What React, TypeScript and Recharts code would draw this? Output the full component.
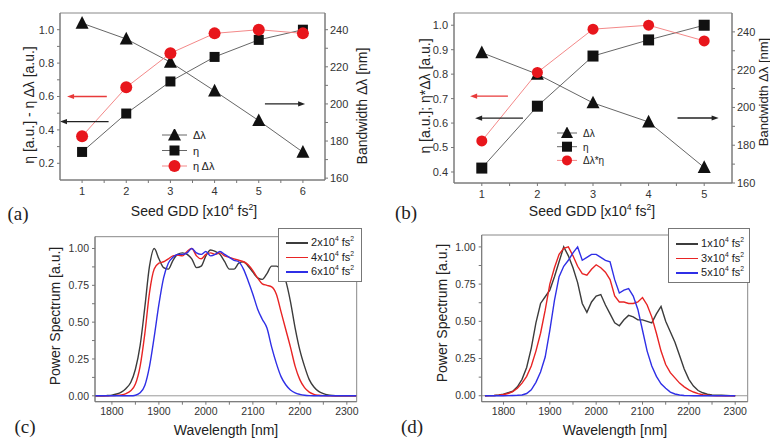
import React from "react";
import { ComposedChart, LineChart, Line, XAxis, YAxis, ReferenceArea, ReferenceLine } from "recharts";

const FONT = '"Liberation Sans", Arial, sans-serif';
const SERIF = '"Liberation Serif", "Times New Roman", serif';
const RED = "#e8161c";
const INK = "#111";

// (a) seed GDD scan, 1..6 x10^4 fs^2
const gddA = [1, 2, 3, 4, 5, 6];
const bandwidthA = [243.5, 235, 222.5, 207, 191, 174];
const etaA = [0.268, 0.498, 0.69, 0.837, 0.939, 1.0];
const etaBwA = [0.362, 0.655, 0.859, 0.978, 1.0, 0.978];

// (b) seed GDD scan, 1..5 x10^4 fs^2
const gddB = [1, 2, 3, 4, 5];
const bandwidthB = [229, 217.6, 202.4, 192.3, 168.2];
const etaB = [0.416, 0.669, 0.874, 0.94, 1.0];
const etaBwB = [0.527, 0.807, 0.984, 1.0, 0.936];

// (c) spectra for 2, 4, 6 x10^4 fs^2
const wlC = [
  1760, 1770, 1780, 1790, 1800, 1810, 1820, 1830, 1840, 1850, 1860, 1870, 1880, 1890, 1900, 1910, 1920, 1930, 1940,
  1950, 1960, 1970, 1980, 1990, 2000, 2010, 2020, 2030, 2040, 2050, 2060, 2070, 2080, 2090, 2100, 2110, 2120, 2130,
  2140, 2150, 2160, 2170, 2180, 2190, 2200, 2210, 2220, 2230, 2240, 2250, 2260, 2270, 2280, 2290, 2300, 2310, 2320,
];
const spec2 = [
  0, 0, 0, 0.002, 0.005, 0.012, 0.025, 0.05, 0.09, 0.18, 0.34, 0.6, 0.88, 1.0, 0.93, 0.87, 0.86, 0.92, 0.96,
  0.97, 0.96, 0.93, 0.87, 0.88, 0.95, 0.99, 0.98, 0.96, 0.91, 0.86, 0.86, 0.9, 0.91, 0.88, 0.84, 0.8, 0.79, 0.83,
  0.88, 0.88, 0.85, 0.78, 0.64, 0.46, 0.31, 0.2, 0.11, 0.06, 0.03, 0.015, 0.006, 0.002, 0, 0, 0, 0, 0,
];
const spec4 = [
  0, 0, 0, 0, 0.001, 0.003, 0.006, 0.015, 0.035, 0.08, 0.2, 0.42, 0.7, 0.86, 0.9, 0.91, 0.93, 0.95, 0.955,
  0.95, 0.98, 1.0, 0.95, 0.93, 0.96, 0.97, 0.96, 0.97, 0.95, 0.94, 0.93, 0.92, 0.91, 0.89, 0.85, 0.8, 0.76, 0.75,
  0.74, 0.69, 0.57, 0.45, 0.33, 0.2, 0.11, 0.055, 0.025, 0.01, 0.004, 0.001, 0, 0, 0, 0, 0, 0, 0,
];
const spec6 = [
  0, 0, 0, 0, 0, 0, 0, 0, 0, 0.004, 0.02, 0.07, 0.2, 0.4, 0.62, 0.8, 0.9, 0.94, 0.96,
  0.96, 0.97, 1.0, 0.97, 0.96, 0.98, 0.95, 0.96, 0.98, 0.96, 0.94, 0.92, 0.91, 0.86, 0.78, 0.69, 0.59, 0.52, 0.46,
  0.33, 0.22, 0.13, 0.075, 0.04, 0.02, 0.01, 0.004, 0.001, 0, 0, 0, 0, 0, 0, 0, 0, 0, 0,
];

// (d) spectra for 1, 3, 5 x10^4 fs^2
const wlD = [
  1760, 1770, 1780, 1790, 1800, 1810, 1820, 1830, 1840, 1850, 1860, 1870, 1880, 1890, 1900, 1910, 1920, 1930, 1940,
  1950, 1960, 1970, 1980, 1990, 2000, 2010, 2020, 2030, 2040, 2050, 2060, 2070, 2080, 2090, 2100, 2110, 2120, 2130,
  2140, 2150, 2160, 2170, 2180, 2190, 2200, 2210, 2220, 2230, 2240, 2250, 2260, 2270, 2280, 2290, 2300,
];
const spec1 = [
  0, 0.001, 0.002, 0.005, 0.01, 0.02, 0.03, 0.06, 0.11, 0.19, 0.32, 0.49, 0.62, 0.665, 0.71, 0.8, 0.9, 1.0, 0.94,
  0.86, 0.76, 0.62, 0.56, 0.63, 0.67, 0.68, 0.61, 0.55, 0.49, 0.47, 0.51, 0.54, 0.53, 0.51, 0.51, 0.5, 0.49, 0.55,
  0.6, 0.5, 0.43, 0.36, 0.27, 0.18, 0.11, 0.065, 0.035, 0.02, 0.01, 0.006, 0.004, 0.003, 0.002, 0.001, 0,
];
const spec3 = [
  0, 0.001, 0.002, 0.004, 0.008, 0.015, 0.028, 0.05, 0.085, 0.13, 0.2, 0.3, 0.42, 0.575, 0.75, 0.86, 0.95, 0.99, 1.0,
  0.94, 0.87, 0.82, 0.81, 0.85, 0.88, 0.86, 0.83, 0.78, 0.67, 0.63, 0.63, 0.62, 0.62, 0.63, 0.66, 0.61, 0.53, 0.42,
  0.3, 0.21, 0.155, 0.12, 0.085, 0.06, 0.04, 0.025, 0.014, 0.007, 0.003, 0.001, 0, 0, 0, 0, 0,
];
const spec5 = [
  0, 0, 0, 0, 0, 0.001, 0.002, 0.003, 0.005, 0.015, 0.04, 0.09, 0.16, 0.26, 0.44, 0.64, 0.8, 0.87, 0.91,
  0.96, 1.0, 0.91, 0.93, 0.95, 0.95, 0.93, 0.91, 0.9, 0.78, 0.69, 0.71, 0.72, 0.67, 0.58, 0.44, 0.3, 0.2, 0.13,
  0.08, 0.05, 0.025, 0.012, 0.005, 0.002, 0.001, 0, 0, 0, 0, 0, 0, 0, 0, 0, 0,
];

const tickStyle = (size: number) => ({ fontSize: size, fill: "#333", fontFamily: FONT });

const Sup = ({ children }: any) => (
  <sup style={{ fontSize: "0.62em", lineHeight: 0, verticalAlign: "super" }}>{children}</sup>
);

function Txt({ x, y, rot, size = 14, serif, children }: any) {
  return (
    <div
      style={{
        position: "absolute",
        left: x,
        top: y,
        transform: `translate(-50%, -50%)${rot ? " rotate(-90deg)" : ""}`,
        whiteSpace: "nowrap",
        fontFamily: serif ? SERIF : FONT,
        fontSize: size,
        color: "#222",
        lineHeight: 1,
      }}
    >
      {children}
    </div>
  );
}

// markers
const tri = (cx: number, cy: number, s: number) =>
  `${cx},${cy - s * 0.55} ${cx - s / 2},${cy + s * 0.42} ${cx + s / 2},${cy + s * 0.42}`;

const triDot = (s: number) => (p: any) =>
  p.cx == null ? <g key={p.index} /> : <polygon key={p.index} points={tri(p.cx, p.cy, s)} fill={INK} />;
const sqDot = (s: number) => (p: any) =>
  p.cx == null ? <g key={p.index} /> : <rect key={p.index} x={p.cx - s / 2} y={p.cy - s / 2} width={s} height={s} fill={INK} />;
const circDot = (s: number) => (p: any) =>
  p.cx == null ? <g key={p.index} /> : <circle key={p.index} cx={p.cx} cy={p.cy} r={s / 2} fill={RED} />;

const arrowShape = (color: string) => (p: any) => {
  const { x1, y1, x2, y2 } = p;
  const dir = Math.sign(x2 - x1) || 1;
  const head = 7;
  return (
    <g>
      <line x1={x1} y1={y1} x2={x2 - dir * head * 0.7} y2={y2} stroke={color} strokeWidth={1.3} />
      <polygon points={`${x2},${y2} ${x2 - dir * head},${y2 - 2.6} ${x2 - dir * head},${y2 + 2.6}`} fill={color} />
    </g>
  );
};

function GddPanel(props: any) {
  const { width, height, margin, data, xDomain, xTicks, leftDomain, leftTicks, leftFmt, rightDomain, rightTicks, arrows, mk, leftW, rightW } = props;
  return (
    <ComposedChart width={width} height={height} data={data} margin={margin}>
      <XAxis
        dataKey="gdd"
        type="number"
        domain={xDomain}
        ticks={xTicks}
        allowDataOverflow
        tickFormatter={(v: number) => (Number.isInteger(v) ? String(v) : "")}
        tick={tickStyle(11)}
        tickSize={3}
        tickMargin={4}
        height={30}
        stroke="#777"
      />
      <XAxis xAxisId="top" orientation="top" type="number" domain={xDomain} ticks={xTicks} allowDataOverflow mirror height={0} tickFormatter={() => ""} tickSize={3} stroke="#888" />
      <YAxis
        yAxisId="left"
        type="number"
        domain={leftDomain}
        ticks={leftTicks}
        allowDataOverflow
        tickFormatter={leftFmt}
        tick={tickStyle(11)}
        tickSize={3}
        tickMargin={3}
        width={leftW}
        stroke="#777"
      />
      <YAxis
        yAxisId="right"
        orientation="right"
        type="number"
        domain={rightDomain}
        ticks={rightTicks}
        allowDataOverflow
        tickFormatter={(v: number) => (v % 20 === 0 ? String(v) : "")}
        tick={{ ...tickStyle(11), textAnchor: "start" }}
        tickSize={3}
        tickMargin={2}
        width={rightW}
        stroke="#777"
      />
      <ReferenceArea yAxisId="left" x1={xDomain[0]} x2={xDomain[1]} y1={leftDomain[0]} y2={leftDomain[1]} fill="none" stroke="#888" strokeWidth={1} />
      <Line yAxisId="right" dataKey="bw" stroke="#555" strokeWidth={0.9} dot={triDot(mk.tri)} isAnimationActive={false} />
      <Line yAxisId="left" dataKey="eta" stroke="#555" strokeWidth={0.9} dot={sqDot(mk.sq)} isAnimationActive={false} />
      <Line yAxisId="left" dataKey="etaBw" stroke="#f27a7a" strokeWidth={0.9} dot={circDot(mk.circ)} isAnimationActive={false} />
      {arrows.map((a: any, i: number) => (
        <ReferenceLine
          key={i}
          yAxisId={a.axis}
          ifOverflow="visible"
          segment={[{ x: a.from, y: a.y }, { x: a.to, y: a.y }]}
          shape={arrowShape(a.color)}
        />
      ))}
    </ComposedChart>
  );
}

function MarkerLegend({ left, top, rows, lineW, gap, mk, size }: any) {
  const h = gap * rows.length + 10;
  return (
    <svg style={{ position: "absolute", left, top }} width={90} height={h}>
      {rows.map((r: any, i: number) => {
        const y = 6 + i * gap;
        const cx = lineW / 2;
        return (
          <g key={r.label}>
            <line x1={0} y1={y} x2={lineW} y2={y} stroke={r.kind === "circ" ? "#f27a7a" : "#555"} strokeWidth={0.9} />
            {r.kind === "tri" && <polygon points={tri(cx, y, mk.tri)} fill={INK} />}
            {r.kind === "sq" && <rect x={cx - mk.sq / 2} y={y - mk.sq / 2} width={mk.sq} height={mk.sq} fill={INK} />}
            {r.kind === "circ" && <circle cx={cx} cy={y} r={mk.circ / 2} fill={RED} />}
            <text x={lineW + 6} y={y + 4} fontSize={size} fontFamily={FONT} fill="#222">
              {r.label}
            </text>
          </g>
        );
      })}
    </svg>
  );
}

function SpectrumPanel(props: any) {
  const { width, height, margin, data, xDomain, linear } = props;
  const xTicks = [1800, 1850, 1900, 1950, 2000, 2050, 2100, 2150, 2200, 2250, 2300];
  const yTicks = [0, 0.125, 0.25, 0.375, 0.5, 0.625, 0.75, 0.875, 1.0];
  const curve = linear ? "linear" : "monotone";
  return (
    <LineChart width={width} height={height} data={data} margin={margin}>
      <XAxis
        dataKey="wl"
        type="number"
        domain={xDomain}
        ticks={xTicks}
        allowDataOverflow
        tickFormatter={(v: number) => (v % 100 === 0 ? String(v) : "")}
        tick={tickStyle(10.5)}
        tickSize={3}
        tickMargin={3}
        height={25}
        stroke="#777"
      />
      <XAxis xAxisId="top" orientation="top" type="number" domain={xDomain} ticks={xTicks} allowDataOverflow mirror height={0} tickFormatter={() => ""} tickSize={3} stroke="#888" />
      <YAxis
        type="number"
        domain={[-0.04, 1.08]}
        ticks={yTicks}
        allowDataOverflow
        tickFormatter={(v: number) => (Number.isInteger(v * 4) ? v.toFixed(2) : "")}
        tick={tickStyle(10.5)}
        tickSize={3}
        tickMargin={3}
        width={45}
        stroke="#777"
      />
      <YAxis yAxisId="r" orientation="right" type="number" domain={[-0.04, 1.08]} ticks={yTicks} allowDataOverflow mirror width={0} tickFormatter={() => ""} tickSize={3} stroke="#888" />
      <ReferenceArea x1={xDomain[0]} x2={xDomain[1]} y1={-0.04} y2={1.08} fill="none" stroke="#888" />
      <ReferenceLine y={0} stroke="#999" strokeWidth={1} />
      <Line type={curve} dataKey="s0" stroke="#3c3c3c" strokeWidth={1.4} dot={false} isAnimationActive={false} />
      <Line type={curve} dataKey="s1" stroke="#e82424" strokeWidth={1.4} dot={false} isAnimationActive={false} />
      <Line type={curve} dataKey="s2" stroke="#2f2fe6" strokeWidth={1.4} dot={false} isAnimationActive={false} />
    </LineChart>
  );
}

function LineLegend({ left, top, width, height, labels, rowY, lineX0, lineX1, textX }: any) {
  const colors = ["#3c3c3c", "#e82424", "#2f2fe6"];
  return (
    <div
      style={{
        position: "absolute",
        left,
        top,
        width,
        height,
        border: "1px solid #777",
        background: "#fff",
        boxSizing: "border-box",
      }}
    >
      {labels.map((l: string, i: number) => (
        <React.Fragment key={l}>
          <div style={{ position: "absolute", left: lineX0, top: rowY[i], width: lineX1 - lineX0, height: 1.5, background: colors[i] }} />
          <div
            style={{
              position: "absolute",
              left: textX,
              top: rowY[i] - 7,
              fontFamily: FONT,
              fontSize: 11,
              color: "#222",
              lineHeight: "14px",
              whiteSpace: "nowrap",
            }}
          >
            {l}x10<Sup>4</Sup> fs<Sup>2</Sup>
          </div>
        </React.Fragment>
      ))}
    </div>
  );
}

const SeedTitle = () => (
  <>
    Seed GDD [x10<Sup>4</Sup> fs<Sup>2</Sup>]
  </>
);

export default function App() {
  const dataA = gddA.map((g, i) => ({ gdd: g, bw: bandwidthA[i], eta: etaA[i], etaBw: etaBwA[i] }));
  const dataB = gddB.map((g, i) => ({ gdd: g, bw: bandwidthB[i], eta: etaB[i], etaBw: etaBwB[i] }));
  const dataC = wlC.map((w, i) => ({ wl: w, s0: spec2[i], s1: spec4[i], s2: spec6[i] }));
  const dataD = wlD.map((w, i) => ({ wl: w, s0: spec1[i], s1: spec3[i], s2: spec5[i] }));

  const ticksA = [1, 1.5, 2, 2.5, 3, 3.5, 4, 4.5, 5, 5.5, 6];
  const ticksB = [1, 1.5, 2, 2.5, 3, 3.5, 4, 4.5, 5];
  const rightTicks = [160, 170, 180, 190, 200, 210, 220, 230, 240];

  return (
    <div style={{ position: "fixed", left: 0, top: 0, width: 770, height: 443, overflow: "hidden", background: "#fff" }}>
      {/* (a) */}
      <div style={{ position: "absolute", left: 0, top: 0 }}>
        <GddPanel
          width={385}
          height={220}
          margin={{ top: 13, right: 20, bottom: 10, left: 20 }}
          leftW={40}
          rightW={40}
          data={dataA}
          xDomain={[0.5, 6.5]}
          xTicks={ticksA}
          leftDomain={[0.1, 1.1]}
          leftTicks={[0.2, 0.3, 0.4, 0.5, 0.6, 0.7, 0.8, 0.9, 1.0]}
          leftFmt={(v: number) => (Math.round(v * 10) % 2 === 0 ? v.toFixed(1) : "")}
          rightDomain={[159, 249]}
          rightTicks={rightTicks}
          mk={{ tri: 13, sq: 10, circ: 12 }}
          arrows={[
            { axis: "left", y: 0.6, from: 1.56, to: 0.66, color: "#e83a3a" },
            { axis: "left", y: 0.45, from: 1.6, to: 0.5, color: "#222" },
            { axis: "right", y: 200, from: 5.14, to: 6.05, color: "#222" },
          ]}
        />
      </div>
      <MarkerLegend
        left={162}
        top={129}
        lineW={25}
        gap={15.5}
        size={11}
        mk={{ tri: 13, sq: 10, circ: 12 }}
        rows={[
          { kind: "tri", label: "Δλ" },
          { kind: "sq", label: "η" },
          { kind: "circ", label: "η Δλ" },
        ]}
      />
      <Txt x={29} y={105} rot>η [a.u.] - η Δλ [a.u.]</Txt>
      <Txt x={362} y={106} rot>Bandwidth Δλ [nm]</Txt>
      <Txt x={194} y={211}><SeedTitle /></Txt>
      <Txt x={18} y={213} size={19} serif>(a)</Txt>

      {/* (b) */}
      <div style={{ position: "absolute", left: 385, top: 0 }}>
        <GddPanel
          width={385}
          height={220}
          margin={{ top: 13, right: 0, bottom: 7, left: 29 }}
          leftW={40}
          rightW={38}
          data={dataB}
          xDomain={[0.5, 5.5]}
          xTicks={ticksB}
          leftDomain={[0.355, 1.05]}
          leftTicks={[0.4, 0.5, 0.6, 0.7, 0.8, 0.9, 1.0]}
          leftFmt={(v: number) => v.toFixed(1)}
          rightDomain={[160, 250]}
          rightTicks={rightTicks}
          mk={{ tri: 13, sq: 11, circ: 11 }}
          arrows={[
            { axis: "left", y: 0.71, from: 1.47, to: 0.79, color: "#e83a3a" },
            { axis: "left", y: 0.62, from: 1.74, to: 0.88, color: "#222" },
            { axis: "right", y: 194.4, from: 4.52, to: 5.26, color: "#222" },
          ]}
        />
      </div>
      <MarkerLegend
        left={557}
        top={127}
        lineW={20}
        gap={13.7}
        size={10}
        mk={{ tri: 12, sq: 10, circ: 10 }}
        rows={[
          { kind: "tri", label: "Δλ" },
          { kind: "sq", label: "η" },
          { kind: "circ", label: "Δλ*η" },
        ]}
      />
      <Txt x={425} y={96} rot>η [a.u.]; η*Δλ [a.u.]</Txt>
      <Txt x={762.5} y={92} rot size={13}>Bandwidth Δλ [nm]</Txt>
      <Txt x={592} y={211}><SeedTitle /></Txt>
      <Txt x={406} y={212} size={19} serif>(b)</Txt>

      {/* (c) */}
      <div style={{ position: "absolute", left: 0, top: 220 }}>
        <SpectrumPanel
          width={385}
          height={223}
          margin={{ top: 16.7, right: 28.3, bottom: 16.3, left: 50 }}
          data={dataC}
          xDomain={[1764, 2321]}
        />
      </div>
      <LineLegend
        left={278}
        top={228}
        width={84}
        height={54}
        labels={["2", "4", "6"]}
        rowY={[13, 27.5, 42]}
        lineX0={7}
        lineX1={29}
        textX={32}
      />
      <Txt x={55} y={316} rot>Power Spectrum [a.u.]</Txt>
      <Txt x={226} y={430}>Wavelength [nm]</Txt>
      <Txt x={25} y={426} size={19} serif>(c)</Txt>

      {/* (d) */}
      <div style={{ position: "absolute", left: 385, top: 220 }}>
        <SpectrumPanel
          width={385}
          height={223}
          margin={{ top: 15, right: 22.3, bottom: 16.3, left: 51.7 }}
          data={dataD}
          xDomain={[1753, 2327]}
          linear
        />
      </div>
      <LineLegend
        left={668}
        top={228}
        width={82}
        height={55}
        labels={["1", "3", "5"]}
        rowY={[14, 28.5, 43]}
        lineX0={7}
        lineX1={29}
        textX={32}
      />
      <Txt x={442} y={313} rot>Power Spectrum [a.u.]</Txt>
      <Txt x={615} y={430}>Wavelength [nm]</Txt>
      <Txt x={412} y={426} size={19} serif>(d)</Txt>
    </div>
  );
}
